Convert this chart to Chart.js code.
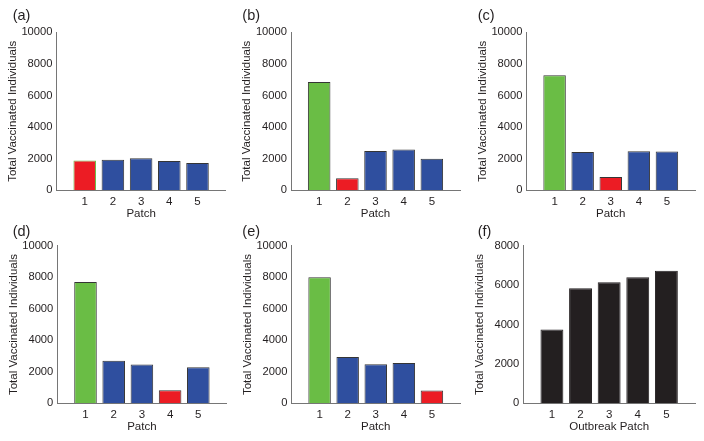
<!DOCTYPE html>
<html lang="en">
<head>
<meta charset="UTF-8">
<title>Total vaccinated individuals by patch</title>
<script src="https://cdn.jsdelivr.net/npm/chart.js"></script>
<style>
  body { margin: 0; background: #fff; }
  #wrap { position: relative; width: 704px; height: 441px; overflow: hidden; }
  #wrap canvas { position: absolute; }
</style>
</head>
<body>
<div id="wrap"></div>
<script>
// values
const patches = [1, 2, 3, 4, 5];
const vaccA = [1880, 1940, 2030, 1850, 1720];
const vaccB = [6850, 760, 2480, 2580, 2000];
const vaccC = [7280, 2430, 840, 2470, 2460];
const vaccD = [7700, 2700, 2460, 830, 2290];
const vaccE = [8000, 2930, 2480, 2550, 810];
const vaccF = [3750, 5840, 6140, 6400, 6730];
const yTicksMain = [0, 2000, 4000, 6000, 8000, 10000];
const yTicksF = [0, 2000, 4000, 6000, 8000];

const GREEN = '#6abd45', RED = '#ec1c24', BLUE = '#2f4f9f', BLACK = '#231f20';
const TEXT = '#231f20', AXIS = '#767676', EDGE = '#353535';
const FONT = "'Liberation Sans', Arial, sans-serif";

// rect = plot area [left, top, right, bottom], box = canvas [left, top, width, height]
const panels = [
  { label: '(a)', vals: vaccA, outbreak: 1, yTicks: yTicksMain, xTitle: 'Patch',
    rect: [56.5, 32.3, 225.7, 190.3], box: [0, 0, 234, 228], labelAt: [12.7, 19.5] },
  { label: '(b)', vals: vaccB, outbreak: 2, yTicks: yTicksMain, xTitle: 'Patch',
    rect: [291, 32.3, 460, 190.3], box: [234, 0, 234, 228], labelAt: [242.3, 19.5] },
  { label: '(c)', vals: vaccC, outbreak: 3, yTicks: yTicksMain, xTitle: 'Patch',
    rect: [526.5, 32.3, 695, 190.3], box: [468, 0, 236, 228], labelAt: [477.7, 19.5] },
  { label: '(d)', vals: vaccD, outbreak: 4, yTicks: yTicksMain, xTitle: 'Patch',
    rect: [57.3, 245.7, 226.5, 403.3], box: [0, 218, 234, 223], labelAt: [12.7, 235.5] },
  { label: '(e)', vals: vaccE, outbreak: 5, yTicks: yTicksMain, xTitle: 'Patch',
    rect: [291.5, 245.7, 460, 403.3], box: [234, 218, 234, 223], labelAt: [242.3, 235.5] },
  { label: '(f)', vals: vaccF, outbreak: 0, yTicks: yTicksF, xTitle: 'Outbreak Patch',
    rect: [523.3, 245.7, 695, 403.3], box: [468, 218, 236, 223], labelAt: [477.7, 235.5] }
];

const panelLabel = {
  id: 'panelLabel',
  afterDraw(chart, args, opts) {
    const ctx = chart.ctx;
    ctx.save();
    ctx.font = '14.5px ' + FONT;
    ctx.fillStyle = TEXT;
    ctx.textBaseline = 'alphabetic';
    ctx.fillText(opts.text, opts.x, opts.y);
    ctx.restore();
  }
};

const wrap = document.getElementById('wrap');

panels.forEach(p => {
  const [L, T, R, B] = p.rect;
  const [bx, by, bw, bh] = p.box;
  const cv = document.createElement('canvas');
  cv.width = bw; cv.height = bh;
  cv.style.left = bx + 'px'; cv.style.top = by + 'px';
  cv.style.width = bw + 'px'; cv.style.height = bh + 'px';
  wrap.appendChild(cv);

  let fill, edge;
  if (p.outbreak === 0) {
    fill = patches.map(() => BLACK);
    edge = patches.map(() => BLACK);
  } else {
    fill = patches.map(x => x === p.outbreak ? RED : (x === 1 ? GREEN : BLUE));
    edge = patches.map(x => (x === 1 && x === p.outbreak) ? GREEN : EDGE);
  }

  const xH = by + bh - B;
  const yW = L - bx;

  new Chart(cv, {
    type: 'bar',
    data: {
      datasets: [{
        data: patches.map((x, i) => ({ x: x, y: p.vals[i] })),
        backgroundColor: fill,
        borderColor: edge,
        borderWidth: 1,
        barPercentage: 0.8,
        categoryPercentage: 1
      }]
    },
    plugins: [panelLabel],
    options: {
      responsive: false,
      animation: false,
      layout: { padding: { top: T - by, right: bx + bw - R, left: 0, bottom: 0 } },
      plugins: {
        legend: { display: false },
        tooltip: { enabled: false },
        panelLabel: { text: p.label, x: p.labelAt[0] - bx, y: p.labelAt[1] - by }
      },
      scales: {
        x: {
          type: 'linear', min: 0, max: 6, offset: false,
          afterBuildTicks: s => { s.ticks = patches.map(v => ({ value: v })); },
          afterFit: s => { s.height = xH; },
          grid: { display: false, drawTicks: false },
          border: { color: AXIS, width: 1 },
          ticks: { padding: 5, color: TEXT, font: { family: FONT, size: 11.5 },
                   autoSkip: false, maxRotation: 0, callback: v => String(v) },
          title: { display: true, text: p.xTitle, color: TEXT,
                   font: { family: FONT, size: 11.5 },
                   padding: { top: 0, bottom: xH - 6.9 - 23.3 } }
        },
        y: {
          min: 0, max: p.yTicks[p.yTicks.length - 1],
          afterBuildTicks: s => { s.ticks = p.yTicks.map(v => ({ value: v })); },
          afterFit: s => { s.width = yW; },
          grid: { display: false, drawTicks: false },
          border: { color: AXIS, width: 1 },
          ticks: { padding: 4, color: TEXT, font: { family: FONT, size: 11.2 },
                   callback: v => String(v) },
          title: { display: true, text: 'Total Vaccinated Individuals', color: TEXT,
                   font: { family: FONT, size: 11.5 },
                   padding: { top: yW - 43.8 - 6.9, bottom: 0 } }
        }
      }
    }
  });
});
</script>
</body>
</html>
